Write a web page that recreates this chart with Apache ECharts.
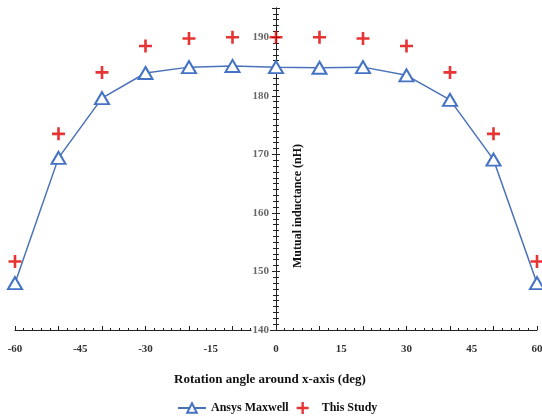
<!doctype html>
<html>
<head>
<meta charset="utf-8">
<script src="https://cdn.jsdelivr.net/npm/echarts@6/dist/echarts.min.js"></script>
<style>
  html, body { margin: 0; padding: 0; background: #fff; }
  #chart { width: 542px; height: 416px; }
</style>
</head>
<body>
<div id="chart"></div>
<script>
  // rotation angles (deg)
  var angles = [-60, -50, -40, -30, -20, -10, 0, 10, 20, 30, 40, 50, 60];
  // mutual inductance (nH)
  var maxwell = [148.0, 169.4, 179.6, 183.9, 184.9, 185.1, 184.9, 184.8, 184.9, 183.5, 179.3, 169.1, 148.0];
  var thisStudy = [151.7, 173.5, 184.0, 188.5, 189.8, 190.0, 190.0, 190.0, 189.8, 188.5, 184.0, 173.5, 151.7];

  var font = 'Liberation Serif';
  var plus = 'path://M4,0 L6,0 L6,4 L10,4 L10,6 L6,6 L6,10 L4,10 L4,6 L0,6 L0,4 L4,4 Z';

  function pairs(ys) {
    return angles.map(function (a, i) { return [a, ys[i]]; });
  }

  var chart = echarts.init(document.getElementById('chart'));

  // plot area: x from 15 to 537, so x = 0 sits at 276
  var gTop = 8, gBottom = 86;

  var yTicks = function (inside) {
    return {
      gridIndex: 1, type: 'value', min: 140, max: 195, interval: 10, position: 'left',
      axisLine: { show: true, onZero: false, lineStyle: { color: '#222', width: 1 } },
      axisTick: { show: true, inside: inside, length: 4, lineStyle: { color: '#222' } },
      minorTick: { show: true, splitNumber: 10, length: 3, lineStyle: { color: '#222' } },
      splitLine: { show: false },
      axisLabel: { show: false }
    };
  };

  var yMain = yTicks(true);
  yMain.axisLabel = {
    show: true, margin: 6, color: '#666', fontFamily: font, fontWeight: 'bold', fontSize: 11,
    backgroundColor: '#fff', padding: [0, 1],
    showMaxLabel: false,
    formatter: function (v) { return v % 10 === 0 ? v : ''; }
  };
  yMain.name = 'Mutual inductance (nH)';
  yMain.nameLocation = 'middle';
  yMain.nameRotate = 90;
  yMain.nameGap = -28;
  yMain.nameTextStyle = { color: '#111', fontFamily: font, fontWeight: 'bold', fontSize: 12, padding: [0, 74, 0, 0] };

  var option = {
    animation: false,
    grid: [
      { left: 15, right: 5, top: gTop, bottom: gBottom, outerBoundsMode: 'none', containLabel: false },
      { left: 276, width: 100, top: gTop, bottom: gBottom, outerBoundsMode: 'none', containLabel: false }
    ],
    xAxis: [{
      gridIndex: 0, type: 'value', min: -60, max: 60, interval: 15,
      axisLine: { show: true, onZero: false, lineStyle: { color: '#222' } },
      axisTick: { show: false },
      splitLine: { show: false },
      axisLabel: { margin: 14, color: '#333', fontFamily: font, fontWeight: 'bold', fontSize: 11 },
      name: 'Rotation angle around x-axis (deg)',
      nameLocation: 'middle', nameGap: 43,
      nameTextStyle: { color: '#111', fontFamily: font, fontWeight: 'bold', fontSize: 13, padding: [0, 12, 0, 0] }
    }, {
      gridIndex: 0, type: 'value', min: -60, max: 60, interval: 10, position: 'bottom',
      axisLine: { show: false, onZero: false },
      axisTick: { show: true, inside: true, length: 4, lineStyle: { color: '#222' } },
      minorTick: { show: true, splitNumber: 5, length: 2, lineStyle: { color: '#222' } },
      axisLabel: { show: false },
      splitLine: { show: false }
    }, {
      gridIndex: 1, type: 'value', min: 0, max: 1, show: false
    }],
    yAxis: [{
      gridIndex: 0, type: 'value', min: 140, max: 195, show: false
    }, yMain, yTicks(false)],
    legend: {
      left: 172, bottom: -3, itemGap: 8, itemWidth: 28, itemHeight: 12,
      textStyle: { color: '#111', fontFamily: font, fontWeight: 'bold', fontSize: 12 },
      data: ['Ansys Maxwell', 'This Study']
    },
    series: [{
      name: 'Ansys Maxwell', type: 'line',
      xAxisIndex: 0, yAxisIndex: 0,
      data: pairs(maxwell),
      symbol: 'triangle', symbolSize: [14, 12],
      lineStyle: { color: '#4a72b8', width: 1.5 },
      itemStyle: { color: '#fff', borderColor: '#4472c4', borderWidth: 2 },
      z: 3
    }, {
      name: 'This Study', type: 'scatter',
      xAxisIndex: 0, yAxisIndex: 0,
      data: pairs(thisStudy),
      symbol: plus, symbolSize: 13,
      itemStyle: { color: '#e00000' },
      z: 4
    }]
  };
  chart.setOption(option);
</script>
</body>
</html>
